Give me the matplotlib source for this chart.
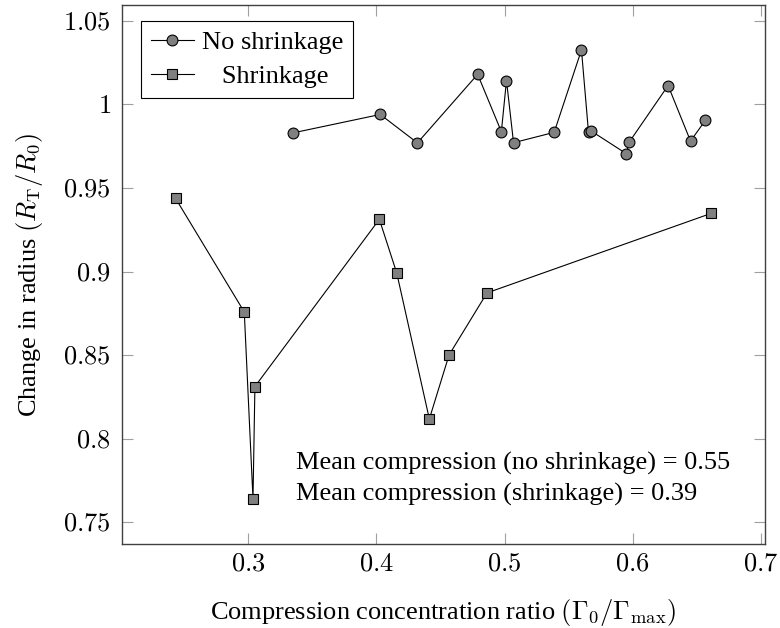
import matplotlib
matplotlib.use("Agg")
import matplotlib.pyplot as plt
from matplotlib.ticker import FixedLocator, FuncFormatter

# ---- data ----
no_shrink_x = [0.335, 0.403, 0.432, 0.479, 0.4975, 0.5015, 0.507, 0.5387, 0.560,
               0.5655, 0.5676, 0.5951, 0.5972, 0.6276, 0.6451, 0.6567]
no_shrink_y = [0.983, 0.994, 0.977, 1.018, 0.9837, 1.0143, 0.9771, 0.9833, 1.0326,
               0.9833, 0.9841, 0.9705, 0.9774, 1.0113, 0.9781, 0.9905]
shrink_x = [0.2433, 0.2969, 0.3037, 0.3052, 0.4023, 0.4159, 0.4413, 0.4567, 0.4863, 0.6614]
shrink_y = [0.9438, 0.8759, 0.7640, 0.8313, 0.9313, 0.8991, 0.8119, 0.8502, 0.8873, 0.9349]

x_ticks = [0.3, 0.4, 0.5, 0.6, 0.7]
y_ticks = [0.75, 0.8, 0.85, 0.9, 0.95, 1.0, 1.05]
series_labels = ["No shrinkage", "Shrinkage"]
notes = ["Mean compression (no shrinkage) = 0.55",
         "Mean compression (shrinkage) = 0.39"]

plt.rcParams['font.family'] = ['Liberation Serif', 'DejaVu Serif']
plt.rcParams['mathtext.fontset'] = 'cm'
FS = 19

fig = plt.figure(figsize=(7.8, 6.28), dpi=100)
ax = fig.add_axes([122/780, 1-544/628, (765-122)/780, (544-5)/628])

mk = dict(color='black', lw=0.8, markerfacecolor='#808080', markeredgecolor='black',
          markeredgewidth=0.8, markersize=7.8)
ax.plot(no_shrink_x, no_shrink_y, marker='o', label=series_labels[0], **mk)
ax.plot(shrink_x, shrink_y, marker='s', label='   ' + series_labels[1], **mk)

# pgfplots-style 10% enlargement of limits
def enlarged(vals):
    lo, hi = min(vals), max(vals)
    d = 0.1 * (hi - lo)
    return lo - d, hi + d

ax.set_xlim(*enlarged(no_shrink_x + shrink_x))
ax.set_ylim(*enlarged(no_shrink_y + shrink_y))

ax.xaxis.set_major_locator(FixedLocator(x_ticks))
ax.yaxis.set_major_locator(FixedLocator(y_ticks))
fmt = FuncFormatter(lambda v, _: f'${v:g}$')
ax.xaxis.set_major_formatter(fmt)
ax.yaxis.set_major_formatter(fmt)

ax.tick_params(direction='in', top=True, right=True, length=8, width=0.8,
               color='#a0a0a0', labelsize=FS, labelcolor='black')
ax.tick_params(axis='x', pad=7)
ax.tick_params(axis='y', pad=8)
for s in ax.spines.values():
    s.set_color('#404040')
    s.set_linewidth(1.0)

ax.set_xlabel(r'Compression concentration ratio $\left(\Gamma_0/\Gamma_{\mathrm{max}}\right)$',
              fontsize=FS, labelpad=15)
ax.set_ylabel(r'Change in radius $\left(R_{\mathrm{T}}/R_0\right)$', fontsize=FS, labelpad=13)

leg = ax.legend(loc='upper left', bbox_to_anchor=(0.03, 0.97), borderaxespad=0,
                fontsize=FS, frameon=True, fancybox=False, framealpha=1,
                edgecolor='black', handlelength=1.65, handletextpad=0.3,
                borderpad=0.35, labelspacing=0.42)
leg.get_frame().set_linewidth(0.8)

ax.text(0.2706, 0.150, notes[0], transform=ax.transAxes, fontsize=FS, va='center', ha='left')
ax.text(0.2706, 0.091, notes[1], transform=ax.transAxes, fontsize=FS, va='center', ha='left')

fig.savefig('out.png', dpi=100)
